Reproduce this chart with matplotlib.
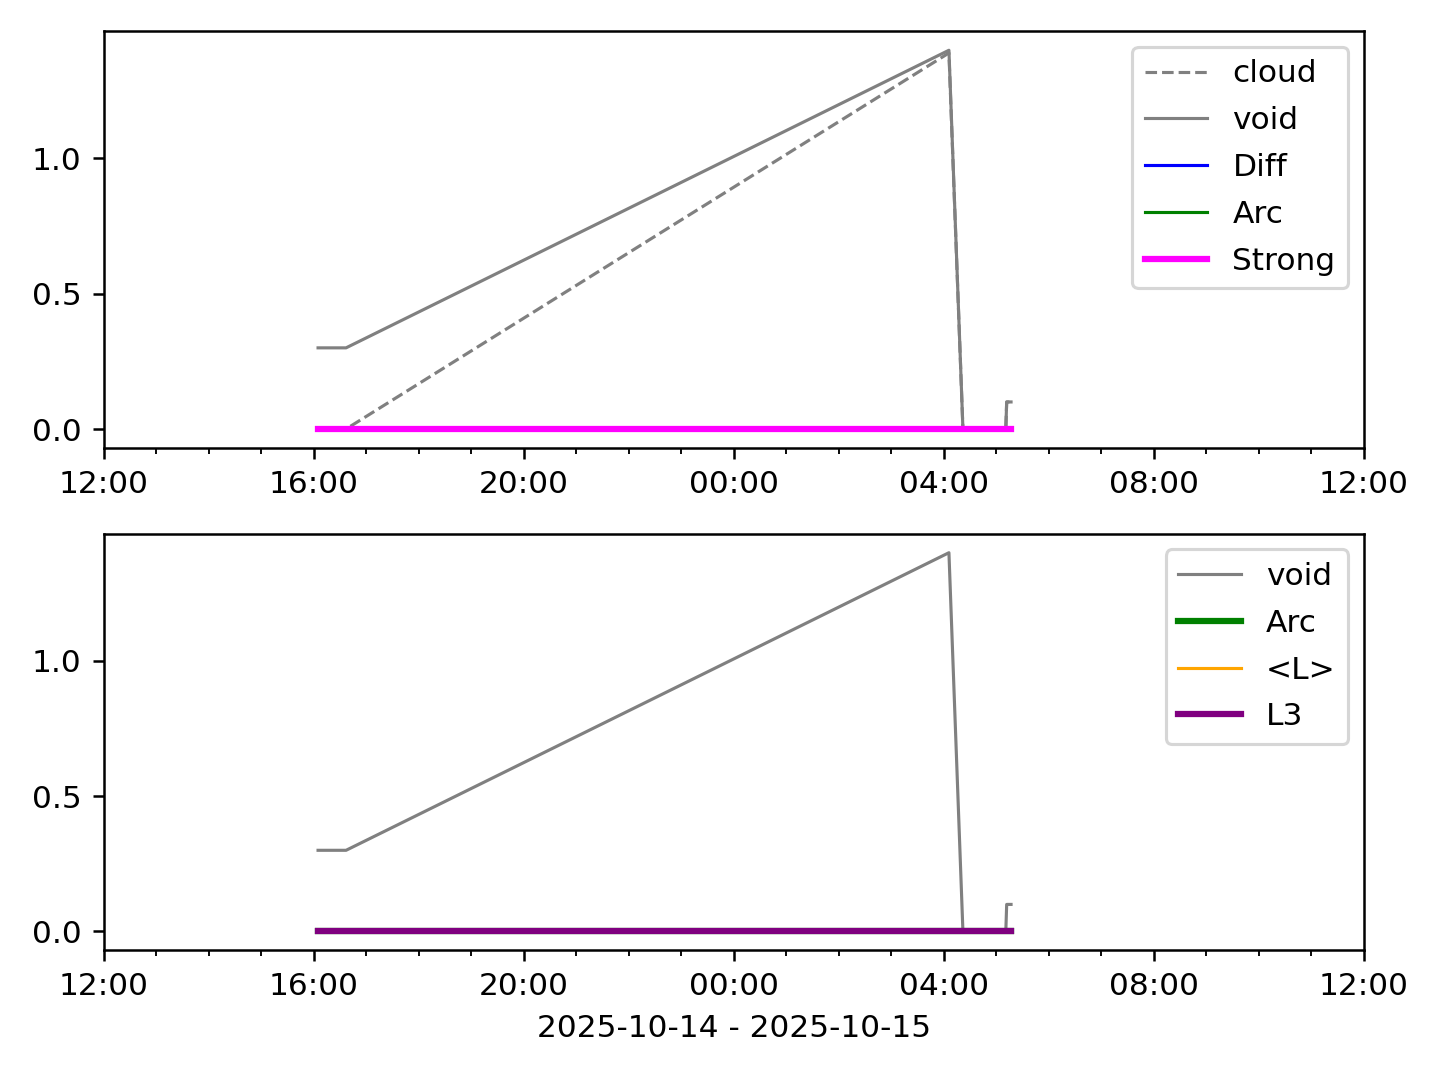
#!/usr/bin/env python

import datetime as dt
import matplotlib
matplotlib.use("Agg")
import matplotlib.pyplot as plt
import matplotlib.dates as mdates

# sample times (2025-10-14 16:05 .. 2025-10-15 05:17)
times = ["2025-10-14 16:05", "2025-10-14 16:37", "2025-10-15 04:06",
         "2025-10-15 04:22", "2025-10-15 05:11", "2025-10-15 05:12",
         "2025-10-15 05:17"]
void = [0.3, 0.3, 1.4, 0.0, 0.0, 0.1, 0.1]
cloud = [0.0, 0.0, 1.39, 0.0, 0.0, 0.1, 0.1]
diff = [0.0, 0.0, 0.0, 0.0, 0.0, 0.0, 0.0]
arc = [0.0, 0.0, 0.0, 0.0, 0.0, 0.0, 0.0]
strong = [0.0, 0.0, 0.0, 0.0, 0.0, 0.0, 0.0]
mean_l = [0.0, 0.0, 0.0, 0.0, 0.0, 0.0, 0.0]
l3 = [0.0, 0.0, 0.0, 0.0, 0.0, 0.0, 0.0]

xlim = ["2025-10-14 12:00", "2025-10-15 12:00"]
xlabel = "2025-10-14 - 2025-10-15"


def parse(ts):
    return [dt.datetime.strptime(t, "%Y-%m-%d %H:%M") for t in ts]


def format_time_axis(ax):
    ax.set_xlim(parse(xlim))
    ax.xaxis.set_major_locator(mdates.HourLocator(byhour=range(0, 24, 4)))
    ax.xaxis.set_minor_locator(mdates.HourLocator())
    ax.xaxis.set_major_formatter(mdates.DateFormatter("%H:%M"))


def main():
    t = parse(times)
    fig, (ax1, ax2) = plt.subplots(2, 1, figsize=(6.4, 4.8), dpi=225)
    fig.subplots_adjust(left=0.072, right=0.947, top=0.971, bottom=0.12,
                        hspace=0.206)

    ax1.plot(t, cloud, color="gray", linestyle="--", linewidth=1, label="cloud")
    ax1.plot(t, void, color="gray", linewidth=1, label="void")
    ax1.plot(t, diff, color="blue", linewidth=1, label="Diff")
    ax1.plot(t, arc, color="green", linewidth=1, label="Arc")
    ax1.plot(t, strong, color="magenta", linewidth=2, label="Strong")
    ax1.legend(loc="upper right", labelspacing=0.57)
    format_time_axis(ax1)

    ax2.plot(t, void, color="gray", linewidth=1, label="void")
    ax2.plot(t, arc, color="green", linewidth=2, label="Arc")
    ax2.plot(t, mean_l, color="orange", linewidth=1, label="<L>")
    ax2.plot(t, l3, color="purple", linewidth=2, label="L3")
    ax2.legend(loc="upper right", labelspacing=0.57)
    format_time_axis(ax2)
    ax2.set_xlabel(xlabel)

    fig.savefig("out.png", dpi=225)


if __name__ == "__main__":
    main()
